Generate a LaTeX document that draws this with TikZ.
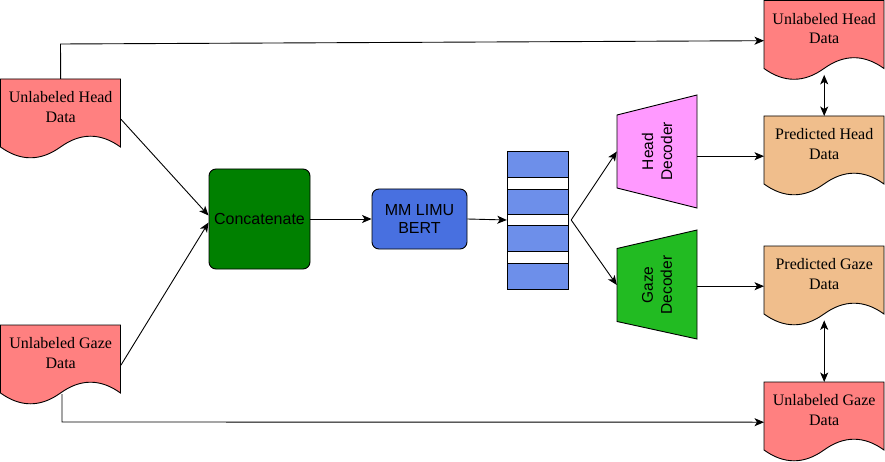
\documentclass[tikz,border=0pt]{standalone}
\usepackage{fontspec}
\setmainfont{Liberation Serif}
\setsansfont{Liberation Sans}
\usetikzlibrary{arrows.meta,backgrounds}

\definecolor{docred}{RGB}{255,128,128}
\definecolor{docorange}{RGB}{240,190,140}
\definecolor{ccgreen}{RGB}{0,128,0}
\definecolor{bertblue}{RGB}{72,112,224}
\definecolor{stackblue}{RGB}{109,143,234}
\definecolor{headpink}{RGB}{255,153,255}
\definecolor{gazegreen}{RGB}{34,187,34}

\tikzset{
  docbox/.style={minimum width=120pt, minimum height=80pt, inner sep=0pt, draw=none, anchor=north west},
  doctext/.style={font=\fontsize{16}{19.5}\selectfont, align=center, inner sep=0pt},
  tip/.tip={Stealth[length=9.5pt,width=8pt,inset=2.5pt]},
  arr/.style={-tip, line width=0.9pt},
  dbl/.style={tip-tip, line width=0.9pt},
  roundbox/.style={draw, rounded corners=7pt, line width=0.9pt, font=\sffamily\fontsize{16}{18}\selectfont, align=center, inner sep=0pt},
  seg/.style={draw, line width=0.9pt, minimum width=61pt, inner sep=0pt, anchor=north},
  decbox/.style={minimum width=80pt, inner sep=0pt, draw=none},
  dectext/.style={rotate=90, font=\sffamily\fontsize{15.5}{19}\selectfont, align=center, inner sep=0pt},
  docline/.style={draw=black, line width=0.9pt}
}

\newcommand{\docpath}[2]{%
  \path[fill=#2, docline, shift={(#1.north west)}]
    (0,0) -- (120,0) -- (120,68)
    .. controls (100,53.6) and (80,53.6) .. (60,68)
    .. controls (40,82.4) and (20,82.4) .. (0,68) -- cycle;}

\begin{document}
\begin{tikzpicture}[x=1pt,y=-1pt]
\useasboundingbox (0,0) rectangle (885,462);

% document boxes
\node[docbox] (hl) at (0.5,79) {};
\node[doctext] (hlt) at ([yshift=-28pt]hl.north) {Unlabeled Head\\Data};
\node[docbox] (gl) at (0.5,325) {};
\node[doctext] (glt) at ([yshift=-28pt]gl.north) {Unlabeled Gaze\\Data};
\node[docbox] (ur) at (764,0.5) {};
\node[doctext] (urt) at ([yshift=-28pt]ur.north) {Unlabeled Head\\Data};
\node[docbox] (ph) at (764,116) {};
\node[doctext] (pht) at ([yshift=-28pt]ph.north) {Predicted Head\\Data};
\node[docbox] (pg) at (764,246) {};
\node[doctext] (pgt) at ([yshift=-28pt]pg.north) {Predicted Gaze\\Data};
\node[docbox] (ul) at (764,382) {};
\node[doctext] (ult) at ([yshift=-28pt]ul.north) {Unlabeled Gaze\\Data};

% processing boxes
\node[roundbox, fill=ccgreen, minimum width=101pt, minimum height=100pt] (cc) at (259.5,219) {Concatenate};
\node[roundbox, fill=bertblue, minimum width=95pt, minimum height=60pt] (bt) at (419.5,219) {MM LIMU\\BERT};

% embedding stack
\node[seg, fill=stackblue, minimum height=26pt] (s1) at (537.5,151) {};
\node[seg, fill=white, minimum height=12pt] (s2) at (537.5,177) {};
\node[seg, fill=stackblue, minimum height=25pt] (s3) at (537.5,189) {};
\node[seg, fill=white, minimum height=11pt] (s4) at (537.5,214) {};
\node[seg, fill=stackblue, minimum height=26pt] (s5) at (537.5,225) {};
\node[seg, fill=white, minimum height=12pt] (s6) at (537.5,251) {};
\node[seg, fill=stackblue, minimum height=26pt] (s7) at (537.5,263) {};
\node[inner sep=0pt, minimum width=61pt, minimum height=138pt] (st) at (537.5,220) {};

% decoders
\node[decbox, minimum height=113pt] (hd) at (657,151.5) {};
\node[dectext] (hdt) at (hd.center) {Head\\Decoder};
\node[decbox, minimum height=110pt] (gd) at (657,285) {};
\node[dectext] (gdt) at (gd.center) {Gaze\\Decoder};

\begin{scope}[on background layer]
  \docpath{hl}{docred}
  \docpath{gl}{docred}
  \docpath{ur}{docred}
  \docpath{ph}{docorange}
  \docpath{pg}{docorange}
  \docpath{ul}{docred}
  \path[fill=headpink, docline, shift={(hd.center)}]
    (-40,-36.5) -- (40,-56.5) -- (40,56.5) -- (-40,36.5) -- cycle;
  \path[fill=gazegreen, docline, shift={(gd.center)}]
    (-40,-36.5) -- (40,-55) -- (40,54) -- (-40,36.5) -- cycle;
\end{scope}

% connectors
\draw[arr] (hl.east) -- ([yshift=3.5pt]cc.west);
\draw[arr] (gl.east) -- ([yshift=-3.5pt]cc.west);
\draw[arr] (cc.east) -- (bt.west);
\draw[arr] (bt.east) -- (st.west);
\draw[arr] ([xshift=3pt]st.east) -- (hd.west);
\draw[arr] ([xshift=3pt]st.east) -- (gd.west);
\draw[arr] (hd.east |- ph.west) -- (ph.west);
\draw[arr] (gd.east |- pg.west) -- (pg.west);
\coordinate (tl) at (60.5,44);
\draw[arr] (hl.north) -- (tl) -- (ur.west);
\coordinate (gb) at (62,394);
\coordinate (bl) at (62,422);
\draw[arr] (gb) -- (bl) -- (ul.west);
\draw[dbl] ([yshift=6pt]ur.south) -- (ph.north);
\draw[dbl] ([yshift=6pt]pg.south) -- (ul.north);
\end{tikzpicture}
\end{document}
